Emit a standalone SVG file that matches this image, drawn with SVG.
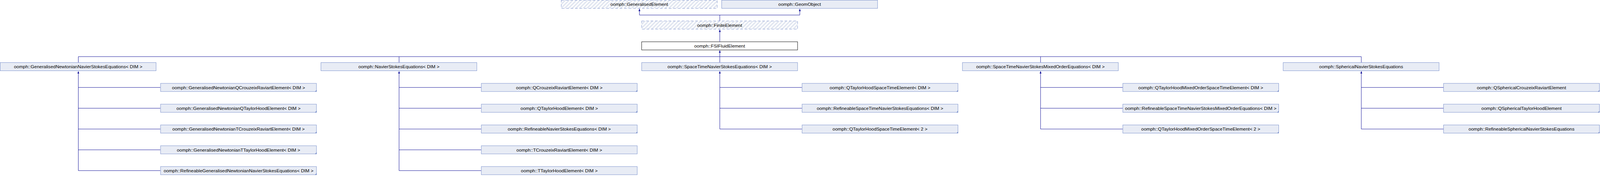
<svg xmlns="http://www.w3.org/2000/svg" width="4300" height="472" viewBox="0 0 4300 472">
<style>
.b{fill:#E8ECF5;stroke:#7B91CC;stroke-width:1}
.w{fill:#FFFFFF;stroke:#000000;stroke-width:1}
.h{fill:url(#hatch);stroke:#7B91CC;stroke-width:1;stroke-dasharray:7,5}
.c{fill:#7B91CC;stroke:none}
text{font-family:"Liberation Sans",Arial,sans-serif;font-size:12.4px;fill:#000000;text-anchor:middle}
.l{fill:none;stroke:#0A0A96;stroke-width:1}
.a{fill:#0A0A96;stroke:none}
</style>
<defs>
<pattern id="hatch" patternUnits="userSpaceOnUse" width="10" height="10">
<rect width="10" height="10" fill="#FFFFFF"/>
<path d="M-2,2 L2,-2 M0,10 L10,0 M8,12 L12,8" stroke="#E0E5F0" stroke-width="3.5"/>
</pattern>
</defs>
<g id="diagram" transform="scale(0.95256)">
<g id="connectors">
<path class="l" d="M1718.5,24 V40.5 H2149.5 V24 M1934.5,40.5 V56"/>
<path class="l" d="M1934.5,80 V112"/>
<path class="l" d="M1934.5,136 V168 M210.5,152.5 H3658.5 M210.5,152.5 V168 M1072.5,152.5 V168 M2796.5,152.5 V168 M3658.5,152.5 V168"/>
<path class="l" d="M210.5,192 V459.5 M210.5,235.5 H431 M210.5,291.5 H431 M210.5,347.5 H431 M210.5,403.5 H431 M210.5,459.5 H431"/>
<path class="l" d="M1072.5,192 V459.5 M1072.5,235.5 H1293 M1072.5,291.5 H1293 M1072.5,347.5 H1293 M1072.5,403.5 H1293 M1072.5,459.5 H1293"/>
<path class="l" d="M1934.5,192 V347.5 M1934.5,235.5 H2155 M1934.5,291.5 H2155 M1934.5,347.5 H2155"/>
<path class="l" d="M2796.5,192 V347.5 M2796.5,235.5 H3017 M2796.5,291.5 H3017 M2796.5,347.5 H3017"/>
<path class="l" d="M3658.5,192 V347.5 M3658.5,235.5 H3879 M3658.5,291.5 H3879 M3658.5,347.5 H3879"/>
<polygon class="a" points="1718.5,23.5 1721,30 1716,30"/>
<polygon class="a" points="2149.5,23.5 2152,30 2147,30"/>
<polygon class="a" points="1934.5,79.5 1937,86 1932,86"/>
<polygon class="a" points="1934.5,135.5 1937,142 1932,142"/>
<polygon class="a" points="210.5,191.5 213,198 208,198"/>
<polygon class="a" points="1072.5,191.5 1075,198 1070,198"/>
<polygon class="a" points="1934.5,191.5 1937,198 1932,198"/>
<polygon class="a" points="2796.5,191.5 2799,198 2794,198"/>
<polygon class="a" points="3658.5,191.5 3661,198 3656,198"/>
</g>
<g id="n_GeneralisedElement"><rect class="h" x="1508.5" y="0.5" width="419" height="22"/><text x="1718" y="16" textLength="155" lengthAdjust="spacingAndGlyphs">oomph::GeneralisedElement</text></g>
<g id="n_GeomObject"><rect class="b" x="1939.5" y="0.5" width="419" height="22"/><text x="2149" y="16" textLength="114.4" lengthAdjust="spacingAndGlyphs">oomph::GeomObject</text></g>
<g id="n_FiniteElement"><rect class="h" x="1724.5" y="56.5" width="419" height="22"/><text x="1934" y="72" textLength="120.6" lengthAdjust="spacingAndGlyphs">oomph::FiniteElement</text></g>
<g id="n_FSIFluidElement"><rect class="w" x="1724.5" y="112.5" width="419" height="22"/><text x="1934" y="128" textLength="136.4" lengthAdjust="spacingAndGlyphs">oomph::FSIFluidElement</text></g>

<g id="n_GNNSEq"><rect class="b" x="0.5" y="168.5" width="419" height="22"/><text x="210" y="184" textLength="345" lengthAdjust="spacingAndGlyphs">oomph::GeneralisedNewtonianNavierStokesEquations&lt; DIM &gt;</text></g>
<g id="n_NSEq"><rect class="b" x="862.5" y="168.5" width="419" height="22"/><text x="1072" y="184" textLength="217.8" lengthAdjust="spacingAndGlyphs">oomph::NavierStokesEquations&lt; DIM &gt;</text></g>
<g id="n_STNSEq"><rect class="b" x="1724.5" y="168.5" width="419" height="22"/><text x="1934" y="184" textLength="280.5" lengthAdjust="spacingAndGlyphs">oomph::SpaceTimeNavierStokesEquations&lt; DIM &gt;</text></g>
<g id="n_STNSMOEq"><rect class="b" x="2586.5" y="168.5" width="419" height="22"/><text x="2796" y="184" textLength="345.3" lengthAdjust="spacingAndGlyphs">oomph::SpaceTimeNavierStokesMixedOrderEquations&lt; DIM &gt;</text></g>
<g id="n_SphNSEq"><rect class="b" x="3448.5" y="168.5" width="419" height="22"/><text x="3658" y="184" textLength="225.4" lengthAdjust="spacingAndGlyphs">oomph::SphericalNavierStokesEquations</text></g>

<g id="n_GNQCR"><rect class="b" x="431.5" y="224.5" width="419" height="22"/><polygon class="c" points="851,242 851,247 846,247"/><text x="641" y="240" textLength="357.7" lengthAdjust="spacingAndGlyphs">oomph::GeneralisedNewtonianQCrouzeixRaviartElement&lt; DIM &gt;</text></g>
<g id="n_GNQTH"><rect class="b" x="431.5" y="280.5" width="419" height="22"/><polygon class="c" points="851,298 851,303 846,303"/><text x="641" y="296" textLength="333.5" lengthAdjust="spacingAndGlyphs">oomph::GeneralisedNewtonianQTaylorHoodElement&lt; DIM &gt;</text></g>
<g id="n_GNTCR"><rect class="b" x="431.5" y="336.5" width="419" height="22"/><polygon class="c" points="851,354 851,359 846,359"/><text x="641" y="352" textLength="355.6" lengthAdjust="spacingAndGlyphs">oomph::GeneralisedNewtonianTCrouzeixRaviartElement&lt; DIM &gt;</text></g>
<g id="n_GNTTH"><rect class="b" x="431.5" y="392.5" width="419" height="22"/><polygon class="c" points="851,410 851,415 846,415"/><text x="641" y="408" textLength="331.5" lengthAdjust="spacingAndGlyphs">oomph::GeneralisedNewtonianTTaylorHoodElement&lt; DIM &gt;</text></g>
<g id="n_RGNNS"><rect class="b" x="431.5" y="448.5" width="419" height="22"/><polygon class="c" points="851,466 851,471 846,471"/><text x="641" y="464" textLength="402.5" lengthAdjust="spacingAndGlyphs">oomph::RefineableGeneralisedNewtonianNavierStokesEquations&lt; DIM &gt;</text></g>

<g id="n_QCR"><rect class="b" x="1293.5" y="224.5" width="419" height="22"/><polygon class="c" points="1713,242 1713,247 1708,247"/><text x="1503" y="240" textLength="232.2" lengthAdjust="spacingAndGlyphs">oomph::QCrouzeixRaviartElement&lt; DIM &gt;</text></g>
<g id="n_QTH"><rect class="b" x="1293.5" y="280.5" width="419" height="22"/><polygon class="c" points="1713,298 1713,303 1708,303"/><text x="1503" y="296" textLength="208.1" lengthAdjust="spacingAndGlyphs">oomph::QTaylorHoodElement&lt; DIM &gt;</text></g>
<g id="n_RNS"><rect class="b" x="1293.5" y="336.5" width="419" height="22"/><polygon class="c" points="1713,354 1713,359 1708,359"/><text x="1503" y="352" textLength="277.1" lengthAdjust="spacingAndGlyphs">oomph::RefineableNavierStokesEquations&lt; DIM &gt;</text></g>
<g id="n_TCR"><rect class="b" x="1293.5" y="392.5" width="419" height="22"/><text x="1503" y="408" textLength="230.2" lengthAdjust="spacingAndGlyphs">oomph::TCrouzeixRaviartElement&lt; DIM &gt;</text></g>
<g id="n_TTH"><rect class="b" x="1293.5" y="448.5" width="419" height="22"/><text x="1503" y="464" textLength="206.1" lengthAdjust="spacingAndGlyphs">oomph::TTaylorHoodElement&lt; DIM &gt;</text></g>

<g id="n_QTHST"><rect class="b" x="2155.5" y="224.5" width="419" height="22"/><polygon class="c" points="2575,242 2575,247 2570,247"/><text x="2365" y="240" textLength="270.8" lengthAdjust="spacingAndGlyphs">oomph::QTaylorHoodSpaceTimeElement&lt; DIM &gt;</text></g>
<g id="n_RSTNS"><rect class="b" x="2155.5" y="280.5" width="419" height="22"/><polygon class="c" points="2575,298 2575,303 2570,303"/><text x="2365" y="296" textLength="339.8" lengthAdjust="spacingAndGlyphs">oomph::RefineableSpaceTimeNavierStokesEquations&lt; DIM &gt;</text></g>
<g id="n_QTHST2"><rect class="b" x="2155.5" y="336.5" width="419" height="22"/><polygon class="c" points="2575,354 2575,359 2570,359"/><text x="2365" y="352" textLength="255" lengthAdjust="spacingAndGlyphs">oomph::QTaylorHoodSpaceTimeElement&lt; 2 &gt;</text></g>

<g id="n_QTHMOST"><rect class="b" x="3017.5" y="224.5" width="419" height="22"/><polygon class="c" points="3437,242 3437,247 3432,247"/><text x="3227" y="240" textLength="335.6" lengthAdjust="spacingAndGlyphs">oomph::QTaylorHoodMixedOrderSpaceTimeElement&lt; DIM &gt;</text></g>
<g id="n_RSTNSMO"><rect class="b" x="3017.5" y="280.5" width="419" height="22"/><polygon class="c" points="3437,298 3437,303 3432,303"/><text x="3227" y="296" textLength="407" lengthAdjust="spacingAndGlyphs">oomph::RefineableSpaceTimeNavierStokesMixedOrderEquations&lt; DIM &gt;</text></g>
<g id="n_QTHMOST2"><rect class="b" x="3017.5" y="336.5" width="419" height="22"/><polygon class="c" points="3437,354 3437,359 3432,359"/><text x="3227" y="352" textLength="319.8" lengthAdjust="spacingAndGlyphs">oomph::QTaylorHoodMixedOrderSpaceTimeElement&lt; 2 &gt;</text></g>

<g id="n_QSCR"><rect class="b" x="3879.5" y="224.5" width="419" height="22"/><polygon class="c" points="4299,242 4299,247 4294,247"/><text x="4089" y="240" textLength="239.8" lengthAdjust="spacingAndGlyphs">oomph::QSphericalCrouzeixRaviartElement</text></g>
<g id="n_QSTH"><rect class="b" x="3879.5" y="280.5" width="419" height="22"/><polygon class="c" points="4299,298 4299,303 4294,303"/><text x="4089" y="296" textLength="215.7" lengthAdjust="spacingAndGlyphs">oomph::QSphericalTaylorHoodElement</text></g>
<g id="n_RSNS"><rect class="b" x="3879.5" y="336.5" width="419" height="22"/><polygon class="c" points="4299,354 4299,359 4294,359"/><text x="4089" y="352" textLength="284.6" lengthAdjust="spacingAndGlyphs">oomph::RefineableSphericalNavierStokesEquations</text></g>
</g>
</svg>
